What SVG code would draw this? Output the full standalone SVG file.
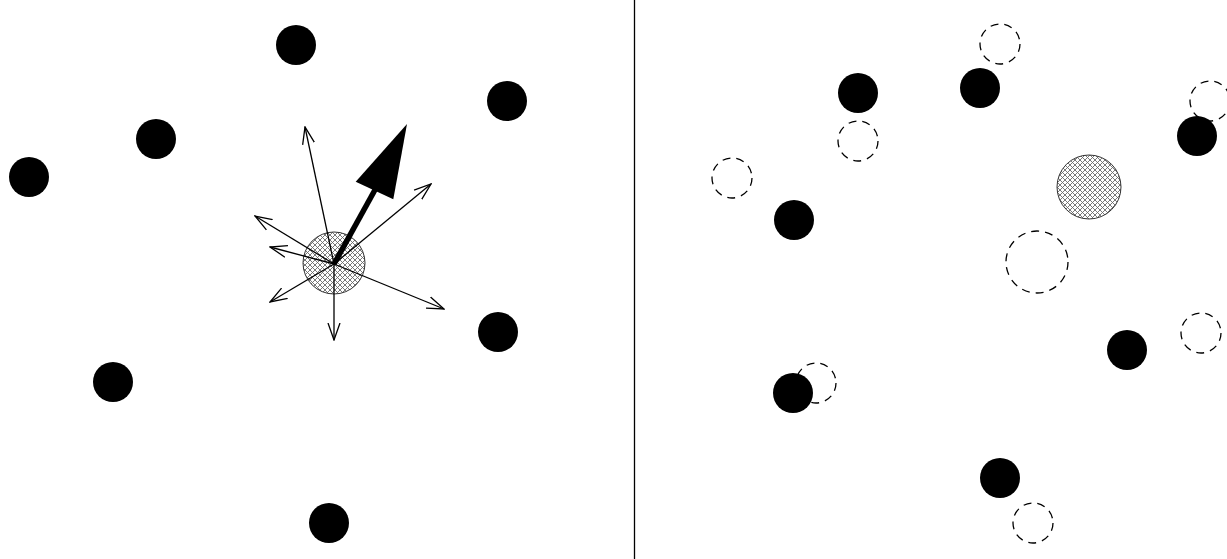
<svg xmlns="http://www.w3.org/2000/svg" width="1227" height="559" viewBox="0 0 1227 559">
<style>
.p{fill:#000}
.d{fill:none;stroke:#000;stroke-width:1.3;stroke-dasharray:8 6}
.h{fill:url(#hatch);stroke:#333;stroke-width:1}
.a{stroke:#000;stroke-width:1.3;fill:none;marker-end:url(#v)}
</style>
<defs>
<pattern id="hatch" patternUnits="userSpaceOnUse" width="5" height="5">
<rect width="5" height="5" fill="#fff"/>
<path d="M-1,-1 L6,6 M6,-1 L-1,6" stroke="#6a6a6a" stroke-width="0.9"/>
</pattern>
<marker id="v" viewBox="0 0 18 14" refX="17" refY="7" markerWidth="18" markerHeight="14" markerUnits="userSpaceOnUse" orient="auto">
<path d="M0,1 L17,7 L0,13" fill="none" stroke="#000" stroke-width="1.3"/>
</marker>
</defs>
<rect width="1227" height="559" fill="#fff"/>
<line x1="634.5" y1="0" x2="634.5" y2="559" stroke="#000" stroke-width="1.3"/>
<g id="left-particles">
<circle class="p" cx="296" cy="45" r="20"/>
<circle class="p" cx="507" cy="101" r="20"/>
<circle class="p" cx="156" cy="139" r="20"/>
<circle class="p" cx="29" cy="177" r="20"/>
<circle class="p" cx="498" cy="332" r="20"/>
<circle class="p" cx="113" cy="382" r="20"/>
<circle class="p" cx="329" cy="523" r="20"/>
</g>
<g id="left-center">
<circle class="h" cx="334" cy="263" r="31"/>
</g>
<g id="connectors">
<line class="a" x1="334" y1="264" x2="305" y2="127"/>
<line class="a" x1="334" y1="264" x2="431" y2="184"/>
<line class="a" x1="334" y1="264" x2="255" y2="216"/>
<line class="a" x1="334" y1="264" x2="270" y2="247"/>
<line class="a" x1="334" y1="264" x2="270" y2="302"/>
<line class="a" x1="334" y1="264" x2="334" y2="340"/>
<line class="a" x1="334" y1="264" x2="444" y2="309"/>
<line x1="334" y1="264" x2="376" y2="188" stroke="#000" stroke-width="5.5"/>
<polygon points="407,124 355.7,181.7 393.3,199.3" fill="#000"/>
</g>
<g id="right-ghosts">
<circle class="d" cx="1000" cy="44" r="20"/>
<circle class="d" cx="858" cy="141" r="20"/>
<circle class="d" cx="732" cy="178" r="20"/>
<circle class="d" cx="1210" cy="101" r="20"/>
<circle class="d" cx="1037" cy="262" r="31"/>
<circle class="d" cx="1201" cy="333" r="20"/>
<circle class="d" cx="816" cy="383" r="20"/>
<circle class="d" cx="1033" cy="523" r="20"/>
</g>
<g id="right-particles">
<circle class="p" cx="858" cy="93" r="20"/>
<circle class="p" cx="980" cy="88" r="20"/>
<circle class="p" cx="1197" cy="136" r="20"/>
<circle class="p" cx="794" cy="220" r="20"/>
<circle class="p" cx="1127" cy="350" r="20"/>
<circle class="p" cx="793" cy="393" r="20"/>
<circle class="p" cx="1000" cy="478" r="20"/>
</g>
<g id="right-center">
<circle class="h" cx="1089" cy="187" r="32"/>
</g>
</svg>
